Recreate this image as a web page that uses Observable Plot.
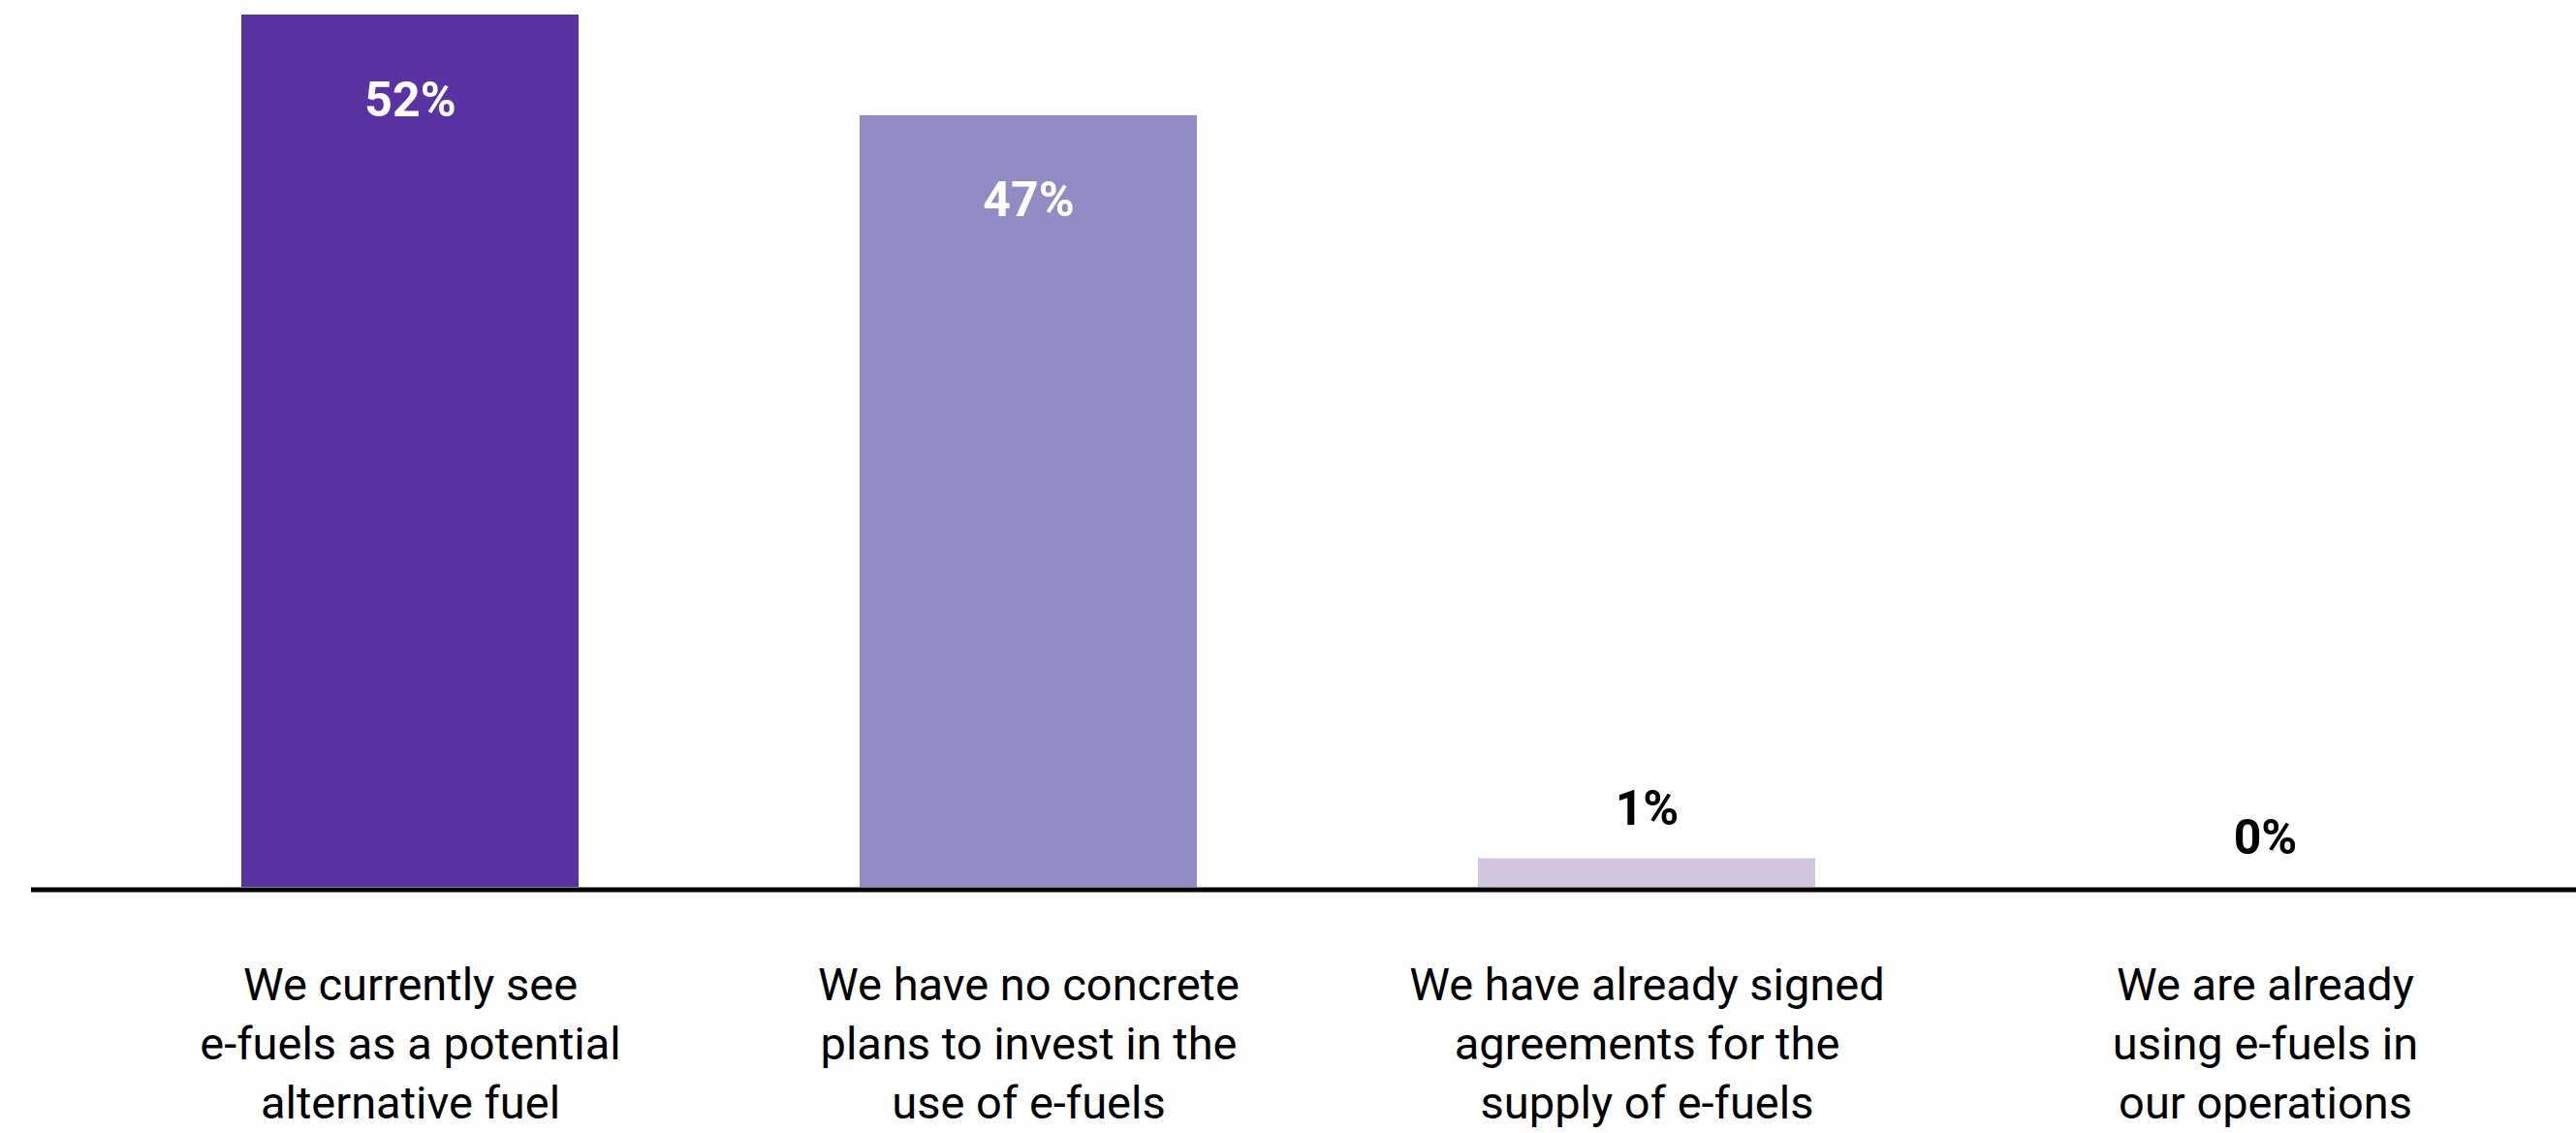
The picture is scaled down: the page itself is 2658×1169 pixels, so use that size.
<!DOCTYPE html>
<html>
<head>
<meta charset="utf-8">
<script src="https://cdn.jsdelivr.net/npm/d3@7"></script>
<script src="https://cdn.jsdelivr.net/npm/@observablehq/plot@0.6"></script>
<style>
  html, body { margin: 0; padding: 0; background: #ffffff; }
  #chart svg { display: block; }
</style>
</head>
<body>
<div id="chart"></div>
<script>
const categories = [
  "We currently see\ne-fuels as a potential\nalternative fuel",
  "We have no concrete\nplans to invest in the\nuse of e-fuels",
  "We have already signed\nagreements for the\nsupply of e-fuels",
  "We are already\nusing e-fuels in\nour operations"
];
const values = [52, 46, 1.7, 0];
const valueLabels = ["52%", "47%", "1%", "0%"];
const colors = ["#5a33a2", "#918cc3", "#d3c4e0", "#d3c4e0"];

const data = categories.map((c, i) => ({category: c, value: values[i], label: valueLabels[i], color: colors[i]}));

const chart = Plot.plot({
  width: 2658,
  height: 1169,
  marginTop: 15,
  marginBottom: 254,
  marginLeft: 32,
  marginRight: 0,
  style: {fontFamily: "Roboto, 'Noto Sans', sans-serif", background: "#ffffff", color: "#000"},
  x: {domain: categories, range: [248, 2512], paddingInner: 0.455, paddingOuter: 0, label: null},
  y: {domain: [0, 52], axis: null},
  color: {type: "identity"},
  marks: [
    Plot.barY(data, {x: "category", y: "value", fill: "color"}),
    Plot.ruleY([0], {stroke: "#000", strokeWidth: 5, dy: 2.5}),
    Plot.text(data.filter(d => d.value > 10), {
      x: "category", y: "value", text: "label", fill: "#fff",
      fontSize: 50, fontWeight: "bold", lineAnchor: "bottom", dy: 104
    }),
    Plot.text(data.filter(d => d.value <= 10), {
      x: "category", y: "value", text: "label", fill: "#000",
      fontSize: 50, fontWeight: "bold", lineAnchor: "bottom", dy: -35
    }),
    Plot.axisX({tickSize: 0, tickPadding: 73, fontSize: 47, lineHeight: 1.3, label: null, fill: "#000"})
  ]
});
document.getElementById("chart").append(chart);
</script>
</body>
</html>
